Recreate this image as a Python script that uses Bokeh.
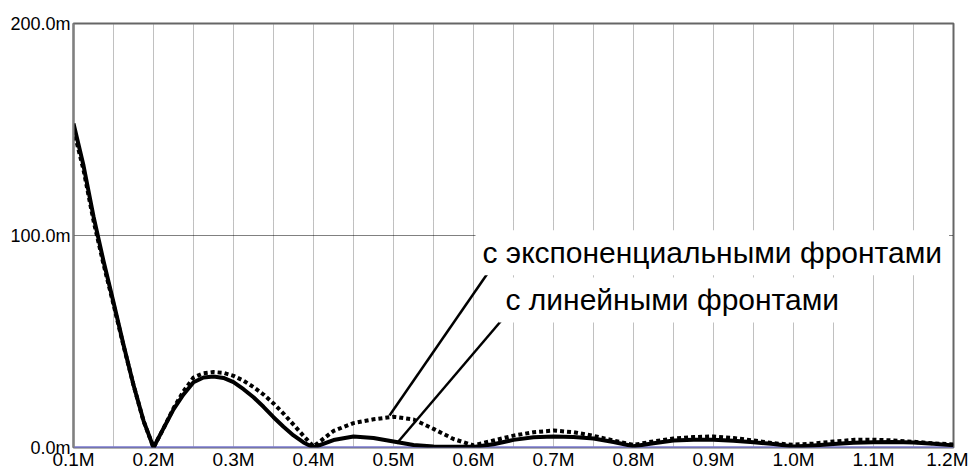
from bokeh.plotting import figure
from bokeh.models import FixedTicker, PrintfTickFormatter, Label, Span
from bokeh.embed import file_html
from bokeh.resources import INLINE

# frequency, MHz
freq = [0.1, 0.1125, 0.125, 0.1375, 0.15, 0.1625, 0.175, 0.1875, 0.2,
        0.2125, 0.225, 0.2375, 0.25, 0.2625, 0.275, 0.2875, 0.3, 0.3125,
        0.325, 0.3375, 0.35, 0.3625, 0.375, 0.3875, 0.4,
        0.425, 0.45, 0.475, 0.5, 0.525, 0.55, 0.575, 0.6, 0.625, 0.65, 0.675,
        0.7, 0.725, 0.75, 0.775, 0.8, 0.825, 0.85, 0.875, 0.9, 0.925, 0.95, 0.975,
        1.0, 1.025, 1.05, 1.075, 1.1, 1.125, 1.15, 1.175, 1.2]
# spectrum amplitude, milli-units: linear fronts (solid)
linear_fronts = [152.8, 133, 109, 88, 68.5, 48.5, 29.5, 12.7, 0,
                 9, 18, 25, 30.8, 33, 33.5, 32.8, 30.8, 27.5,
                 23.7, 19.2, 14.3, 9.8, 5.7, 2.4, 0,
                 3.5, 5.2, 4.5, 2.8, 1.2, 0.5, 0.3, 0.3, 1.5, 3.6, 4.8,
                 5.2, 4.9, 4.2, 2.6, 0.6, 2.0, 3.3, 3.6, 3.6, 3.2, 2.5, 1.6,
                 0.5, 1.0, 1.7, 2.2, 2.5, 2.6, 2.4, 1.8, 1.0]
# exponential fronts (dotted)
exp_fronts = [150, 131, 107, 86.5, 67.5, 48, 29.5, 12.5, 0,
              9, 18.5, 26.5, 33, 35, 35.6, 35.2, 33.8, 31.5,
              28.5, 25, 20.8, 16, 10.8, 5.5, 0.5,
              7.8, 11.5, 13.3, 14.5, 13.2, 8.8, 4.0, 1.0, 3.3, 5.6, 7.2,
              8.0, 7.2, 5.5, 3.3, 1.2, 2.9, 4.2, 4.9, 5.2, 4.5, 3.3, 2.0,
              1.3, 1.9, 2.8, 3.6, 3.7, 3.3, 2.7, 2.0, 1.4]

x_ticks = [0.1, 0.2, 0.3, 0.4, 0.5, 0.6, 0.7, 0.8, 0.9, 1.0, 1.1, 1.2]
x_grid = [0.15, 0.2, 0.25, 0.3, 0.35, 0.4, 0.45, 0.5, 0.55, 0.6, 0.65, 0.7,
          0.75, 0.8, 0.85, 0.9, 0.95, 1.0, 1.05, 1.1, 1.15]
y_ticks = [0, 100, 200]
y_grid = [100]

label_texts = ["с экспоненциальными фронтами", "с линейными фронтами"]
label_x = [0.6025, 0.63125]
label_y = [91.9, 69.6]
lead_x0 = [0.6175, 0.636]
lead_y0 = [82.1, 60.4]
lead_x1 = [0.495, 0.504]
lead_y1 = [15.1, 1.9]

FONT = "Liberation Sans"

p = figure(frame_width=880, frame_height=424, x_range=(0.1, 1.2), y_range=(0, 200),
           output_backend="svg", toolbar_location=None,
           min_border_left=73, min_border_top=23, min_border_right=15, min_border_bottom=23)
p.background_fill_color = "white"
p.border_fill_color = "white"
p.outline_line_color = "#666666"
p.outline_line_width = 2

# grids
p.xgrid.ticker = FixedTicker(ticks=x_grid)
p.xgrid.grid_line_color = "#808080"
p.xgrid.grid_line_dash = "1 1"
p.xgrid.grid_line_width = 1
p.ygrid.ticker = FixedTicker(ticks=y_grid)
p.ygrid.grid_line_color = "#000000"
p.ygrid.grid_line_dash = "1 1"
p.ygrid.grid_line_width = 1

# axes
p.xaxis.ticker = FixedTicker(ticks=x_ticks)
p.xaxis.formatter = PrintfTickFormatter(format="%.1fM")
p.xaxis.axis_line_color = None
p.xaxis.major_tick_line_color = None
p.xaxis.minor_tick_line_color = None
p.xaxis.major_tick_out = 0
p.xaxis.major_label_standoff = 1
p.xaxis.major_label_text_font = FONT
p.xaxis.major_label_text_font_size = "19px"
p.xaxis.major_label_text_color = "#000000"

p.yaxis.ticker = FixedTicker(ticks=y_ticks)
p.yaxis.formatter = PrintfTickFormatter(format="%.1fm")
p.yaxis.axis_line_color = "#808080"
p.yaxis.axis_line_width = 2
p.yaxis.major_tick_line_color = None
p.yaxis.minor_tick_line_color = None
p.yaxis.major_tick_out = 0
p.yaxis.major_label_standoff = 3
p.yaxis.major_label_text_font = FONT
p.yaxis.major_label_text_font_size = "18px"
p.yaxis.major_label_text_color = "#000000"

# zero reference trace
p.add_layout(Span(location=0, dimension="width", line_color="#8080ff", line_width=2, level="underlay"))

# curves
p.line(freq, exp_fronts, line_color="black", line_width=4, line_dash="4 3")
p.line(freq, linear_fronts, line_color="black", line_width=4, line_join="round")

# leader lines
p.segment(x0=lead_x0, y0=lead_y0, x1=lead_x1, y1=lead_y1, line_color="black", line_width=2.5)

for t, lx, ly in zip(label_texts, label_x, label_y):
    p.add_layout(Label(x=lx, y=ly, text=t, text_font=FONT, text_font_size="30px",
                       text_color="black", text_align="left", text_baseline="alphabetic",
                       background_fill_color="white", padding=(7, 6)))

open("out.html", "w").write(file_html(p, INLINE))
